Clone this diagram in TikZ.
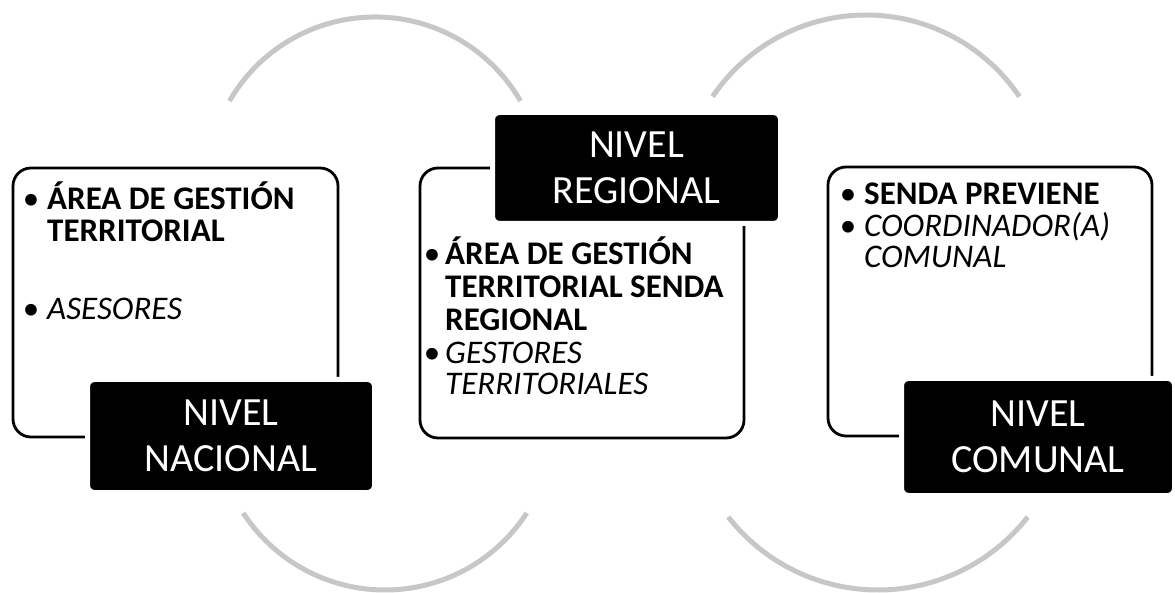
\documentclass[tikz,border=0pt]{standalone}
\usepackage{fontspec}
\setmainfont{Carlito}
\begin{document}
\begin{tikzpicture}[x=1pt,y=-1pt]
\tikzset{
  frame/.style={draw=black, line width=2.8pt, rounded corners=18pt, inner sep=0pt},
  lab/.style={fill=black, draw=white, line width=5pt, rounded corners=7pt, text=white,
    font=\fontsize{40}{46}\selectfont, align=center, inner sep=0pt},
  bdot/.style={anchor=base, inner sep=0pt, font=\fontsize{33}{33}\selectfont},
  btxt/.style={anchor=base west, inner sep=0pt, font=\fontsize{33}{33}\selectfont\bfseries},
  itxt/.style={anchor=base west, inner sep=0pt, font=\fontsize{33}{33}\selectfont\itshape},
  ring/.style={draw=black!22, line width=5pt}
}
\useasboundingbox (0,0) rectangle (1175,593);
\fill[white] (0,0) rectangle (1175,593);
% arcs
\draw[ring] (375,185) ++(-150:168) arc[start angle=-150, end angle=-30, radius=168];
\draw[ring] (385,421) ++(147:169) arc[start angle=147, end angle=33, radius=169];
\draw[ring] (866,200) ++(-146:185) arc[start angle=-146, end angle=-34, radius=185];
\draw[ring] (878,400) ++(142:190) arc[start angle=142, end angle=38, radius=190];
% frames
\node[frame, minimum width=325pt, minimum height=269pt] (f1) at (175.5,302.5) {};
\node[frame, minimum width=324pt, minimum height=270pt] (f2) at (582,303) {};
\node[frame, minimum width=324pt, minimum height=269pt] (f3) at (990,301.5) {};
% labels
\node[lab, minimum width=287pt, minimum height=113pt] (l1) at (231,436) {NIVEL\\NACIONAL};
\node[lab, minimum width=288pt, minimum height=111pt] (l2) at (636.5,168) {NIVEL\\REGIONAL};
\node[lab, minimum width=273pt, minimum height=117pt] (l3) at (1038,437) {NIVEL\\COMUNAL};
% left texts
\node[bdot] (d11) at (31,210) {•};
\node[btxt] (t11) at (47,210) {ÁREA DE GESTIÓN};
\node[btxt] (t12) at (47,242) {TERRITORIAL};
\node[bdot] (d12) at (31,320) {•};
\node[itxt] (t13) at (47,320) {ASESORES};
% middle texts
\node[bdot] (d21) at (432,265) {•};
\node[btxt] (t21) at (445,265) {ÁREA DE GESTIÓN};
\node[btxt] (t22) at (445,298) {TERRITORIAL SENDA};
\node[btxt] (t23) at (445,331) {REGIONAL};
\node[bdot] (d22) at (432,363) {•};
\node[itxt] (t24) at (445,363) {GESTORES};
\node[itxt] (t25) at (445,395) {TERRITORIALES};
% right texts
\node[bdot] (d31) at (848,205) {•};
\node[btxt] (t31) at (864,205) {SENDA PREVIENE};
\node[bdot] (d32) at (848,237) {•};
\node[itxt] (t32) at (864,237) {COORDINADOR(A)};
\node[itxt] (t33) at (864,268) {COMUNAL};
\end{tikzpicture}
\end{document}
